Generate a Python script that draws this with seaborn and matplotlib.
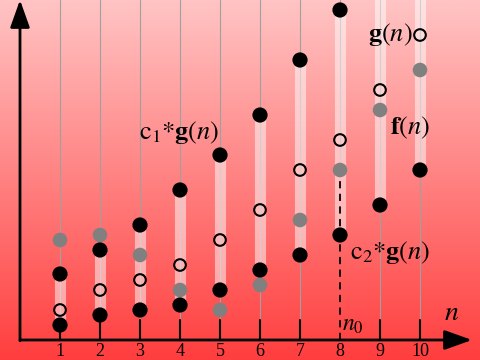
import numpy as np
import pandas as pd
import matplotlib
matplotlib.use("Agg")
import matplotlib.pyplot as plt
import seaborn as sns
from matplotlib.colors import LinearSegmentedColormap

n = [1, 2, 3, 4, 5, 6, 7, 8, 9, 10]
upper = [66, 90, 115, 150, 185, 225, 280, 330, 380, 420]   # c1*g(n)
g_vals = [30, 50, 60, 75, 100, 130, 170, 200, 250, 305]     # g(n)
f_vals = [100, 105, 85, 50, 30, 55, 120, 170, 230, 270]     # f(n)
lower = [15, 25, 30, 35, 50, 70, 85, 105, 135, 170]         # c2*g(n)
tick_labels = ["1", "2", "3", "4", "5", "6", "7", "8", "9", "10"]
n0 = 8

sns.set_theme(style="white")
plt.rcParams["mathtext.fontset"] = "stix"
plt.rcParams["font.family"] = ["Liberation Serif", "DejaVu Serif"]
plt.rcParams["text.color"] = "black"

fig = plt.figure(figsize=(4.8, 3.6), dpi=100)
ax = fig.add_axes([0, 0, 1, 1])

# background gradient
grad = np.linspace(0, 1, 256).reshape(-1, 1)
cmap = LinearSegmentedColormap.from_list("bg", ["#ff3e3e", "#ffc4c4"])
ax.imshow(grad, extent=[-0.5, 11.5, -20, 340], origin="lower", aspect="auto",
          cmap=cmap, zorder=0)

df = pd.DataFrame({"n": n, "upper": upper, "g": g_vals, "f": f_vals, "lower": lower})

# thin gray guide lines and ticks
for xi, fi in zip(n, f_vals):
    if xi == n0:
        ax.plot([xi, xi], [fi, 340], color="#a0a0a0", lw=0.8, zorder=1)
        ax.plot([xi, xi], [0, fi], color="black", lw=1.3, ls=(0, (4, 3)), zorder=3)
    else:
        ax.plot([xi, xi], [20, 340], color="#a0a0a0", lw=0.8, zorder=1)
        ax.plot([xi, xi], [0, 20], color="black", lw=1.5, zorder=1)

# light bars between bounds
ax.vlines(df["n"], df["lower"], df["upper"], colors="white", alpha=0.5, lw=8, zorder=2)

# points
sns.scatterplot(data=df, x="n", y="f", color="#808080", s=110, edgecolor="none",
                zorder=4, ax=ax, legend=False)
sns.scatterplot(data=df, x="n", y="g", facecolor="none", s=70, edgecolor="black",
                linewidth=1.5, zorder=5, ax=ax, legend=False)
sns.scatterplot(data=df, x="n", y="upper", color="black", s=120, edgecolor="none",
                zorder=5, ax=ax, legend=False)
sns.scatterplot(data=df, x="n", y="lower", color="black", s=120, edgecolor="none",
                zorder=5, ax=ax, legend=False)
ax.set_xlim(-0.5, 11.5)
ax.set_ylim(-20, 340)
ax.axis("off")

# axes arrows
ax.annotate("", xy=(11.3, 0), xytext=(0, 0),
            arrowprops=dict(arrowstyle="-|>,head_length=1.4,head_width=0.5",
                            color="black", lw=2, shrinkA=0, shrinkB=0), zorder=6)
ax.annotate("", xy=(0, 340), xytext=(0, -0.8),
            arrowprops=dict(arrowstyle="-|>,head_length=1.4,head_width=0.5",
                            color="black", lw=2, shrinkA=0, shrinkB=0), zorder=6)

# tick labels
for xi, lab in zip(n, tick_labels):
    ax.text(xi, -12, lab, ha="center", va="center", fontsize=13, color="black", zorder=7)

# labels
fs = 19
kw = dict(fontsize=fs, ha="left", va="center", color="black", zorder=7)
ax.text(2.97, 208, r"$\mathrm{c}_{1}{*}\mathbf{g}(n)$", **kw)
ax.text(8.25, 87, r"$\mathrm{c}_{2}{*}\mathbf{g}(n)$", **kw)
ax.text(8.7, 305, r"$\mathbf{g}(n)$", **kw)
ax.text(9.25, 212, r"$\mathbf{f}(n)$", **kw)
ax.text(8.05, 15, r"$n_0$", fontsize=17, ha="left", va="center", color="black", zorder=7)
ax.text(10.8, 27, r"$n$", fontsize=20, ha="center", va="center", color="black", zorder=7)

fig.savefig("out.png", dpi=100)
